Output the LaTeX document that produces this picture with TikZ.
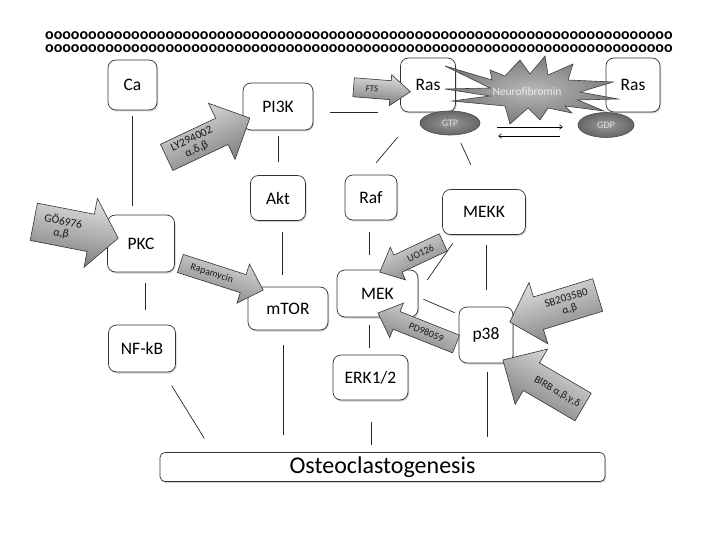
\documentclass[tikz,border=0pt]{standalone}
\usepackage{fontspec}
\setmainfont{Carlito}
\usepackage{graphicx}
\usetikzlibrary{shadows,calc,shapes.geometric,arrows.meta}

\tikzset{
  box/.style={draw=black!80, line width=0.7pt, rounded corners=8pt, fill=white,
    drop shadow={shadow xshift=1pt, shadow yshift=-1.5pt, opacity=0.3, fill=black!60},
    font=\fontsize{17.5}{19}\selectfont, inner sep=0pt},
  link/.style={line width=0.7pt, draw=black!85},
  inharrow/.style={draw=black!80, line width=0.6pt, top color=black!12, bottom color=black!52},
  inhtext/.style={align=center, inner sep=0pt, text=black!90},
  pill/.style={ellipse, draw=black!70, line width=0.6pt, inner color=black!40, outer color=black!60,
    text=black!12, font=\fontsize{10}{11}\selectfont, inner sep=0pt},
  starburst/.style={draw=black!75, line width=0.6pt, inner color=black!28, outer color=black!52},
  eqarrow/.style={line width=0.6pt, draw=black, -{To[length=3.5pt,width=5pt]}}
}

% set centre (screen px), angle (deg, CCW) and direction (1 = points along angle, -1 = opposite)
\newcommand\arset[4]{\def\arX{#1}\def\arY{#2}\def\arT{#3}\def\arS{#4}}
\newcommand\arpt[3]{\coordinate (#1) at ({\arX+(\arS)*(#2)*cos(\arT)-(#3)*sin(\arT)},{\arY-(\arS)*(#2)*sin(\arT)-(#3)*cos(\arT)});}
% name, length, shaft, head width, head length, text, font size
\newcommand\inh[7]{%
  \arpt{#1-1}{-#2/2}{#3/2}
  \arpt{#1-2}{#2/2-#5}{#3/2}
  \arpt{#1-3}{#2/2-#5}{#4/2}
  \arpt{#1-4}{#2/2}{0}
  \arpt{#1-5}{#2/2-#5}{-#4/2}
  \arpt{#1-6}{#2/2-#5}{-#3/2}
  \arpt{#1-7}{-#2/2}{-#3/2}
  \arpt{#1-t}{-#5/2}{0}
  \path[inharrow, shading angle=\arT] (#1-1) -- (#1-2) -- (#1-3) -- (#1-4) -- (#1-5) -- (#1-6) -- (#1-7) -- cycle;
  \node[inhtext, rotate=\arT, font=\fontsize{#7}{11.5}\selectfont] (#1) at (#1-t) {#6};}

\begin{document}
\begin{tikzpicture}[x=1pt, y=-1pt]
\useasboundingbox (0,0) rectangle (720,540);
\fill[white] (0,0) rectangle (720,540);

% membrane
\node[anchor=west, inner sep=0pt] (mem1) at (45,36) {\resizebox{627pt}{!}{\bfseries\foreach \i in {1,...,73}{o}}};
\node[anchor=west, inner sep=0pt] (mem2) at (45,49) {\resizebox{627pt}{!}{\bfseries\foreach \i in {1,...,73}{o}}};

% boxes
\node[box, minimum width=49pt, minimum height=50pt] (Ca)   at (132.5,85)  {Ca};
\node[box, minimum width=70pt, minimum height=47pt] (PI3K) at (278,106.5) {PI3K};
\node[box, minimum width=55pt, minimum height=54pt] (RasL) at (428,85)    {Ras};
\node[box, minimum width=54pt, minimum height=54pt] (RasR) at (633,85)    {Ras};
\node[box, minimum width=55pt, minimum height=45pt] (Akt)  at (278,198)   {Akt};
\node[box, minimum width=52pt, minimum height=45pt] (Raf)  at (371,197.5) {Raf};
\node[box, minimum width=83pt, minimum height=45pt] (MEKK) at (484,212)   {MEKK};
\node[box, minimum width=67pt, minimum height=57pt] (PKC)  at (141,243.5) {PKC};
\node[box, minimum width=80pt, minimum height=43pt] (mTOR) at (288,308.5) {mTOR};
\node[box, minimum width=81pt, minimum height=47pt] (MEK)  at (377.5,293.5) {MEK};
\node[box, minimum width=54pt, minimum height=56pt] (p38)  at (486,335)   {p38};
\node[box, minimum width=67pt, minimum height=47pt] (NFkB) at (142,348.5) {NF-kB};
\node[box, minimum width=75pt, minimum height=45pt] (ERK)  at (370.5,377.5) {ERK1/2};
\node[box, rounded corners=5pt, minimum width=445pt, minimum height=29pt,
      font=\fontsize{24}{26}\selectfont] (Osteo) at (382.5,467) {Osteoclastogenesis};

% Neurofibromin starburst
\path[starburst] (445,66) -- (492,80) -- (490,70) -- (505,76) -- (520,60) -- (530,74)
  -- (545,56) -- (548,75) -- (573,64) -- (568,80) -- (613,82) -- (580,92) -- (618,99)
  -- (578,100) -- (604,111) -- (565,106) -- (572,113) -- (548,108) -- (540,120)
  -- (528,108) -- (510,124) -- (505,106) -- (452,101) -- (490,96) -- (445,89)
  -- (490,88) -- cycle;
\node[text=black!8, font=\fontsize{11.5}{12}\selectfont, inner sep=0pt] (NF1) at (527,92) {Neurofibromin};

% GTP / GDP
\node[pill, minimum width=60pt, minimum height=24pt] (GTP) at (450,123) {GTP};
\node[pill, minimum width=56pt, minimum height=25pt] (GDP) at (606,125) {GDP};
\coordinate (eqA) at ([yshift=-4pt]GTP.east);
\coordinate (eqB) at (eqA -| GDP.west);
\coordinate (eqC) at ([yshift=-13pt]GTP.east);
\coordinate (eqD) at (eqC -| GDP.west);
\draw[eqarrow, shorten <=17pt, shorten >=15pt] (eqA) -- (eqB);
\draw[eqarrow, shorten <=18pt, shorten >=18pt] (eqD) -- (eqC);

% connectors
\draw[link, shorten <=6pt, shorten >=9pt] (Ca.south) -- (Ca.south |- PKC.north);
\draw[link, shorten <=6pt, shorten >=13pt] (PI3K) -- (Akt);
\draw[link, shorten <=17pt, shorten >=22pt] ([yshift=-5.5pt]PI3K.east) -- ([yshift=-5.5pt]PI3K.east -| RasL.west);
\draw[link, shorten <=32.6pt, shorten >=15.6pt] (RasL.251.6) -- (Raf.102.5);
\draw[link, shorten <=8.8pt, shorten >=26.9pt] (GTP.301.7) -- (MEKK.95);
\draw[link, shorten <=11.5pt, shorten >=12pt] ([xshift=4pt]Akt.south) -- ([xshift=4pt]Akt.south |- mTOR.north);
\draw[link, shorten <=11pt, shorten >=15pt] ([xshift=4pt]PKC.south) -- ([xshift=4pt]PKC.south |- NFkB.north);
\draw[link, shorten <=12pt, shorten >=15pt] ([xshift=-2pt]Raf.south) -- ([xshift=-2pt]Raf.south |- MEK.north);
\draw[link, shorten <=10.4pt, shorten >=15.6pt] (MEKK.222) -- (MEK.1);
\draw[link, shorten <=5.5pt, shorten >=4.4pt] (MEK.355.3) -- (p38.143.1);
\draw[link, shorten <=10.5pt, shorten >=17pt] ([xshift=2pt]MEKK.south) -- ([xshift=2pt]MEKK.south |- p38.north);
\draw[link, shorten <=8pt, shorten >=7pt] ([xshift=-8.5pt]MEK.south) -- ([xshift=-8.5pt]MEK.south |- ERK.north);
\draw[link, shorten <=15.6pt, shorten >=16.1pt] (NFkB.312.8) -- (Osteo.175.77);
\draw[link, shorten <=15pt, shorten >=17.5pt] ([xshift=-5pt]mTOR.south) -- ([xshift=-5pt]mTOR.south |- Osteo.north);
\draw[link, shorten <=22pt, shorten >=7.5pt] ([xshift=0.5pt]ERK.south) -- ([xshift=0.5pt]ERK.south |- Osteo.north);
\draw[link, shorten <=9pt, shorten >=15.5pt] ([xshift=1pt]p38.south) -- ([xshift=1pt]p38.south |- Osteo.north);

% inhibitor arrows
\arset{382}{89.5}{-4.5}{1}       \inh{FTS}{57}{19}{31}{20}{FTS}{9}
\arset{208.25}{137.75}{25.3}{1}  \inh{LY}{92}{29}{62}{31}{LY294002\\α,δ,β}{11.5}
\arset{76}{230}{-11}{1}          \inh{GO}{86}{38}{70}{28}{GÖ6976\\α,β}{11.5}
\arset{221.75}{276.75}{-17.8}{1} \inh{Rapa}{87}{19}{41}{21}{Rapamycin}{10}
\arset{411.5}{257.25}{25.1}{-1}  \inh{UO}{70}{19}{36}{20}{UO126}{10}
\arset{417}{328.5}{-21.7}{-1}    \inh{PD}{84}{19}{37}{20}{PD98059}{10}
\arset{553.7}{308.5}{17.1}{-1}   \inh{SB}{92}{34}{64}{30}{SB203580\\α,β}{11}
\arset{543}{383.5}{-30.4}{-1}    \inh{BIRB}{93}{32}{64}{33}{BIRB α,β,γ,δ}{10.5}
\end{tikzpicture}
\end{document}
